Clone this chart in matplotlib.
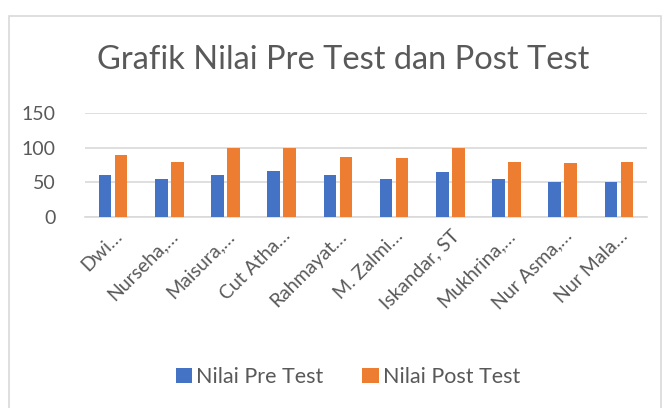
import matplotlib
matplotlib.use("Agg")
import matplotlib.pyplot as plt
import numpy as np
from matplotlib.patches import Rectangle

names = ["Dwi…", "Nurseha,…", "Maisura,…", "Cut Atha…", "Rahmayat…",
         "M. Zalmi…", "Iskandar, ST", "Mukhrina,…", "Nur Asma,…", "Nur Mala…"]
pre_test = [60, 55, 60, 67, 60, 55, 65, 55, 50, 50]
post_test = [90, 80, 100, 100, 87, 85, 100, 80, 78, 80]
series_names = ["Nilai Pre Test", "Nilai Post Test"]
y_ticks = [0, 50, 100, 150]

plt.rcParams['font.family'] = ['Lato', 'DejaVu Sans']
W, H = 663, 408
fig = plt.figure(figsize=(W/100, H/100), dpi=100)

# chart border
fig.patches.append(Rectangle((9/W, -0.1), (661-9)/W, 1.1 - 16/H, transform=fig.transFigure,
                             fill=False, edgecolor='#D9D9D9', linewidth=1.2))

ax = fig.add_axes([85/W, 1-217.3/H, (647-85)/W, (217.3-112.7)/H])
x = np.arange(len(names))
bw = 0.226
off = 0.143
ax.bar(x - off, pre_test, bw, color='#4472C4', label=series_names[0], zorder=3)
ax.bar(x + off, post_test, bw, color='#ED7D31', label=series_names[1], zorder=3)

ax.set_xlim(-0.5, len(names) - 0.5)
ax.set_ylim(0, 150)
ax.set_yticks(y_ticks)
ax.yaxis.grid(True, color='#D9D9D9', linewidth=1.2, zorder=0)
for s in ['top', 'right', 'left']:
    ax.spines[s].set_visible(False)
ax.spines['bottom'].set_color('#D9D9D9')
ax.spines['bottom'].set_linewidth(1.2)
ax.spines['bottom'].set_zorder(1)
ax.tick_params(axis='both', length=0, labelcolor='#595959', labelsize=14)
ax.tick_params(axis='y', pad=21)
ax.set_xticks(x)
ax.set_xticklabels(names, rotation=45, ha='right', rotation_mode='anchor', fontsize=14)
ax.tick_params(axis='x', pad=7)

fig.text(343/W, 1-60/H, "Grafik Nilai Pre Test dan Post Test", ha='center', va='center',
         fontsize=23.5, color='#595959')

fig.legend(loc='center', bbox_to_anchor=(348/W, 1-377/H), ncol=2, frameon=False,
           fontsize=15.5, handlelength=0.75, handleheight=0.75, handletextpad=0.2,
           columnspacing=1.8, labelcolor='#595959')

fig.savefig('out.png', dpi=100)
